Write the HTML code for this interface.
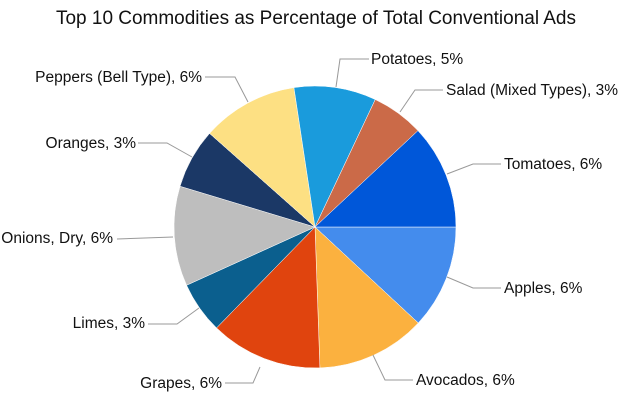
<!DOCTYPE html>
<html><head><meta charset="utf-8"><style>
html,body{margin:0;padding:0;background:#fff;}
svg{display:block;font-family:"Liberation Sans",Arial,sans-serif;}
</style></head><body>
<svg width="626" height="408" viewBox="0 0 626 408" xmlns="http://www.w3.org/2000/svg">
<rect width="626" height="408" fill="#fff"/>
<text x="316" y="24" font-size="19" text-anchor="middle" textLength="520" lengthAdjust="spacingAndGlyphs" fill="#111">Top 10 Commodities as Percentage of Total Conventional Ads</text>
<g stroke="#fff" stroke-width="0.5">
<path d="M315,227 L456,227 A141,141 0 0 1 418.28,322.98 Z" fill="#448ced"/>
<path d="M315,227 L418.28,322.98 A141,141 0 0 1 319.92,367.91 Z" fill="#fbb13f"/>
<path d="M315,227 L319.92,367.91 A141,141 0 0 1 216.53,327.91 Z" fill="#e0440e"/>
<path d="M315,227 L216.53,327.91 A141,141 0 0 1 186.59,285.25 Z" fill="#0b5f8e"/>
<path d="M315,227 L186.59,285.25 A141,141 0 0 1 180.02,186.25 Z" fill="#bebebe"/>
<path d="M315,227 L180.02,186.25 A141,141 0 0 1 209.56,133.39 Z" fill="#1b3866"/>
<path d="M315,227 L209.56,133.39 A141,141 0 0 1 293.92,87.58 Z" fill="#fde083"/>
<path d="M315,227 L293.92,87.58 A141,141 0 0 1 375.26,99.52 Z" fill="#1a9bdc"/>
<path d="M315,227 L375.26,99.52 A141,141 0 0 1 417.96,130.66 Z" fill="#cb6a48"/>
<path d="M315,227 L417.96,130.66 A141,141 0 0 1 456,227 Z" fill="#0057d9"/>
</g>
<g stroke="#999" stroke-width="1" fill="none">
<polyline points="336,87 340,59 369,59"/>
<polyline points="400,112 415,90 443,90"/>
<polyline points="447,174 473,164 501,164"/>
<polyline points="447,277 473,288 501,288"/>
<polyline points="373,355 385,380 413,380"/>
<polyline points="205,77 235,77 248,102"/>
<polyline points="138,143 167,143 192,157"/>
<polyline points="117,239 173,237"/>
<polyline points="148,324 177,324 199,308"/>
<polyline points="225,383 253,383 260,367"/>
</g>
<g font-size="15.5" fill="#111">
<text x="371" y="64">Potatoes, 5%</text>
<text x="446" y="95">Salad (Mixed Types), 3%</text>
<text x="504" y="169">Tomatoes, 6%</text>
<text x="504" y="293">Apples, 6%</text>
<text x="416" y="385">Avocados, 6%</text>
<text x="202" y="82" text-anchor="end">Peppers (Bell Type), 6%</text>
<text x="136" y="148" text-anchor="end">Oranges, 3%</text>
<text x="113" y="243" text-anchor="end">Onions, Dry, 6%</text>
<text x="145" y="328" text-anchor="end">Limes, 3%</text>
<text x="222" y="388" text-anchor="end">Grapes, 6%</text>
</g>
</svg>
</body></html>
